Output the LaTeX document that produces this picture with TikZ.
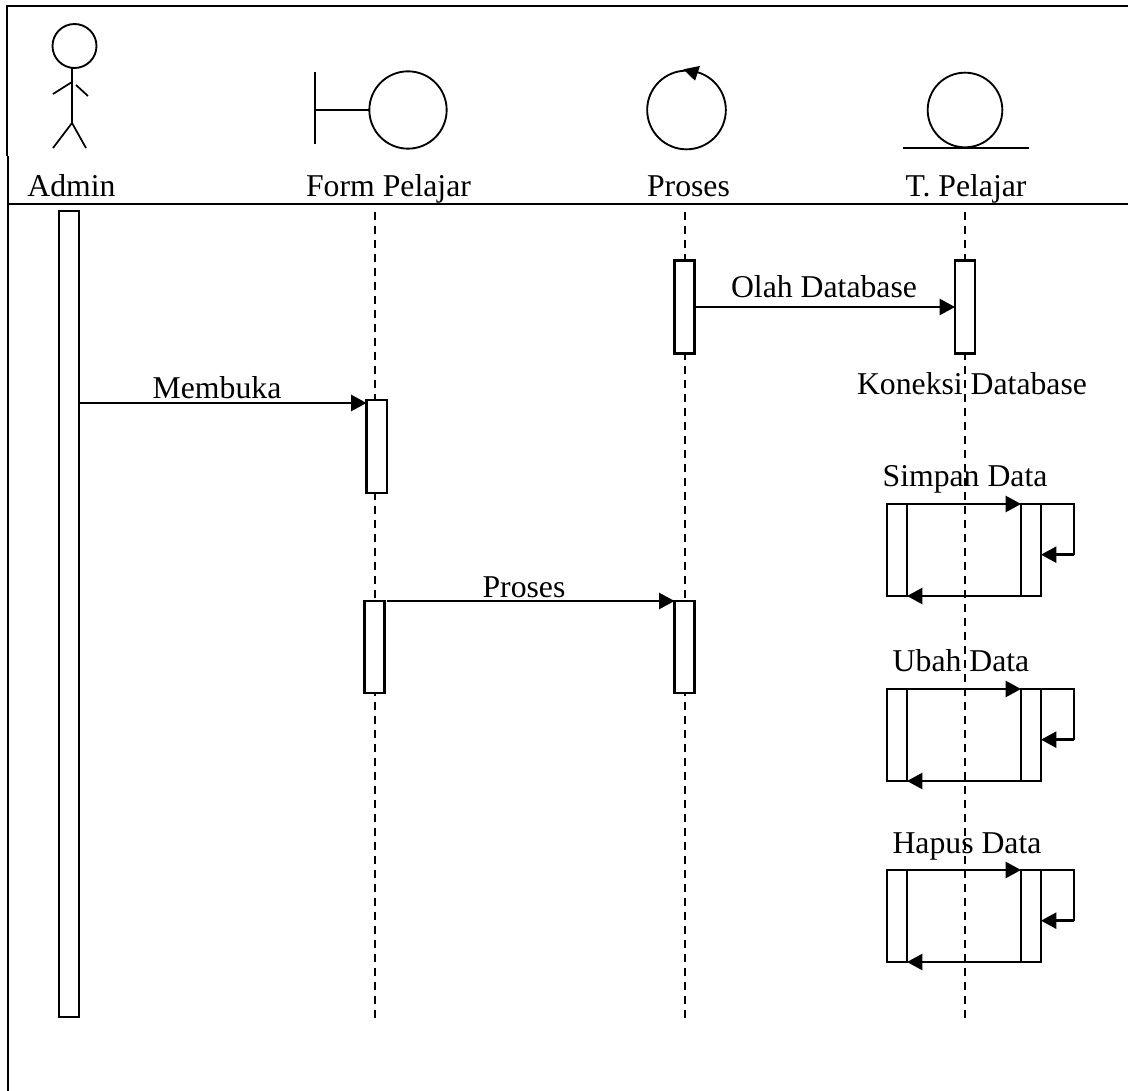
\documentclass[tikz,border=0pt]{standalone}
\usepackage{fontspec}
\setmainfont{Liberation Serif}
\usetikzlibrary{arrows.meta,calc}
\tikzset{
  line/.style={draw=black,line width=1.5pt},
  thin line/.style={draw=black,line width=1.3pt},
  msg/.style={draw=black,line width=1.8pt,-{Triangle[length=11.5pt,width=12pt]},shorten >=0pt},
  life/.style={draw=black,line width=1.3pt,dash pattern=on 6pt off 4.5pt},
  bar/.style={draw=black,fill=white,line width=1.6pt,inner sep=0pt,outer sep=0pt,minimum width=15pt},
  ring/.style={circle,draw=black,line width=1.4pt,inner sep=0pt,outer sep=0pt},
  lbl/.style={font=\fontsize{23.8pt}{26pt}\selectfont,inner sep=0pt,anchor=base,text=black},
}
% #1 prefix, #2 top y
\newcommand{\selfcall}[2]{
  \node[bar,anchor=north west,minimum height=69pt] (#1L) at (887,#2) {};
  \node[bar,anchor=north west,minimum height=69pt] (#1R) at (1021,#2) {};
  \coordinate (#1A) at ([xshift=24.75pt]#1R.north east);
  \coordinate (#1B) at ([xshift=24.75pt,yshift=-38pt]#1R.north east);
  \coordinate (#1C) at ([yshift=-38pt]#1R.north east);
  \draw[line] (#1R.north east) -- (#1A) -- (#1B);
  \draw[msg] (#1B) -- (#1C);
  \draw[msg] (#1L.north east) -- (#1R.north west);
  \draw[msg] (#1R.south west) -- (#1L.south east);
}
\begin{document}
\begin{tikzpicture}[x=0.75pt,y=-0.75pt]
\useasboundingbox (0,0) rectangle (1128,1091);
\fill[white] (0,0) rectangle (1128,1091);
% frame
\coordinate (fbl) at (8,1091);
\coordinate (fml) at (8,156);
\coordinate (ftl) at (7,156);
\coordinate (ftc) at (7,6);
\coordinate (ftr) at (1128,6);
\coordinate (hl) at (8,204);
\coordinate (hr) at (1128,204);
\draw[line] (fbl) -- (fml);
\draw[line] (ftl) -- (ftc) -- (ftr);
\draw[line] (hl) -- (hr);
% actor
\node[ring,minimum size=33pt] (head) at (74.5,46) {};
\coordinate (neck) at (72,82);
\coordinate (hip) at (72,123);
\coordinate (armL) at (53,94);
\coordinate (armRa) at (76,85);
\coordinate (armRb) at (88,96);
\coordinate (legL) at (53,148);
\coordinate (legR) at (86,148);
\draw[thin line] (72,68.5) -- (hip);
\draw[thin line] (armL) -- (neck);
\draw[thin line] (armRa) -- (armRb);
\draw[thin line] (legL) -- (hip) -- (legR);
% boundary
\node[ring,minimum size=58pt] (bnd) at (408,110) {};
\coordinate (bt) at (315,72);
\coordinate (bb) at (315,144);
\coordinate (bm) at (315,110);
\draw[thin line] (bt) -- (bb);
\draw[thin line] (bm) -- (bnd.west);
% control
\node[ring,minimum width=59pt,minimum height=57.5pt] (ctl) at (686.5,110) {};
\coordinate (ca) at (683.3,69.3);
\coordinate (cb) at (700,66);
\coordinate (cc) at (695,80.7);
\fill[black] (ca) -- (cb) -- (cc) -- cycle;
% entity
\node[ring,minimum size=56pt] (ent) at (965,110) {};
\coordinate (el) at (903,148);
\coordinate (er) at (1029,148);
\draw[thin line] (el) -- (er);
% labels
\node[lbl] (tA) at (71.5,197) {Admin};
\node[lbl] (tF) at (388.5,197) {Form Pelajar};
\node[lbl] (tP) at (688.5,197) {Proses};
\node[lbl] (tT) at (966,197) {T. Pelajar};
% lifelines
\coordinate (l1t) at (375,212); \coordinate (l1b) at (375,1018);
\coordinate (l2t) at (685,212); \coordinate (l2b) at (685,1018);
\coordinate (l3t) at (965,212); \coordinate (l3b) at (965,1018);
\draw[life] (l1t) -- (l1b);
\draw[life] (l2t) -- (l2b);
\draw[life] (l3t) -- (l3b);
% activation bars
\node[bar,anchor=north west,minimum height=604.5pt] (admin) at (59,211) {};
\node[bar,anchor=north west,minimum height=69.75pt,minimum width=15.5pt] (f1) at (366.5,400) {};
\node[bar,anchor=north west,minimum height=69pt] (f2) at (364.5,601) {};
\node[bar,anchor=north west,minimum height=69.75pt] (p1) at (674.5,260.5) {};
\node[bar,anchor=north west,minimum height=69pt] (p2) at (674.5,601) {};
\node[bar,anchor=north west,minimum height=69.75pt] (t1) at (955,260.5) {};
% messages
\draw[msg] (p1.east) -- (t1.west);
\coordinate (m1) at (79,403);
\draw[msg] (admin.east |- m1) -- (f1.west |- m1);
\draw[msg] ([xshift=2pt]f2.north east) -- (p2.north west);
\selfcall{s}{504}
\selfcall{u}{689}
\selfcall{h}{870}
% message labels
\node[lbl] (lO) at (824,298) {Olah Database};
\node[lbl] (lM) at (217,398) {Membuka};
\node[lbl] (lP) at (524,597) {Proses};
\node[lbl] (lK) at (972,394) {Koneksi Database};
\node[lbl] (lS) at (965,486) {Simpan Data};
\node[lbl] (lU) at (961,671) {Ubah Data};
\node[lbl] (lH) at (967,853) {Hapus Data};
\end{tikzpicture}
\end{document}
